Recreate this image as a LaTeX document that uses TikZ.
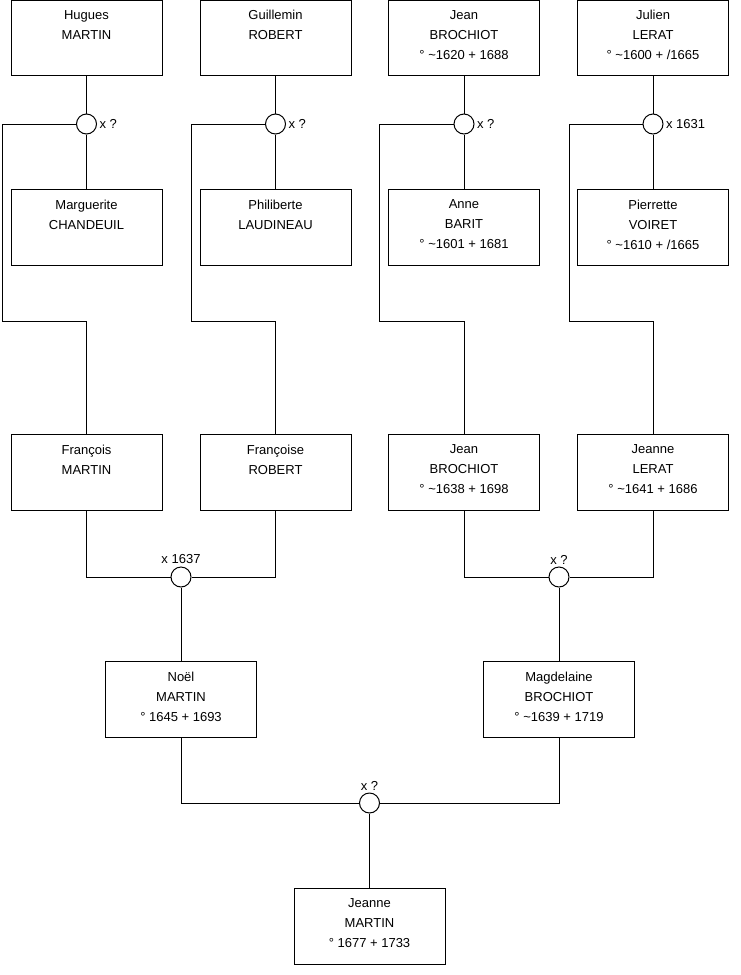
\documentclass[tikz,border=0pt]{standalone}
\usepackage{fontspec}
\setmainfont{Liberation Sans}

\begin{document}
\begin{tikzpicture}[x=1pt,y=-1pt,line width=1pt,
pers/.style={draw,rectangle,minimum width=151pt,minimum height=75.5pt,align=center,inner sep=0pt,font=\fontsize{13}{20}\selectfont,execute at end node={\strut}},
mar/.style={draw,circle,fill=white,minimum size=20pt,inner sep=0pt},
lab/.style={font=\fontsize{13}{15}\selectfont,inner sep=2pt}]
\useasboundingbox (0,0) rectangle (740,975);
% grands-parents
\node[pers] (hugues) at (86.5,38) {Hugues\\MARTIN\\};
\node[pers] (guillemin) at (275.5,38) {Guillemin\\ROBERT\\};
\node[pers] (jeanA) at (464,38) {Jean\\BROCHIOT\\° \textasciitilde1620 + 1688};
\node[pers] (julien) at (653,38) {Julien\\LERAT\\° \textasciitilde1600 + /1665};
\node[pers] (marguerite) at (86.5,227.5) {Marguerite\\CHANDEUIL\\};
\node[pers] (philiberte) at (275.5,227.5) {Philiberte\\LAUDINEAU\\};
\node[pers] (anne) at (464,227.5) {Anne\\BARIT\\° \textasciitilde1601 + 1681};
\node[pers] (pierrette) at (653,227.5) {Pierrette\\VOIRET\\° \textasciitilde1610 + /1665};
% parents
\node[pers] (francois) at (86.5,472.5) {François\\MARTIN\\};
\node[pers] (francoise) at (275.5,472.5) {Françoise\\ROBERT\\};
\node[pers] (jeanB) at (464,472.5) {Jean\\BROCHIOT\\° \textasciitilde1638 + 1698};
\node[pers] (jeanne) at (653,472.5) {Jeanne\\LERAT\\° \textasciitilde1641 + 1686};
\node[pers] (noel) at (181,699.5) {Noël\\MARTIN\\° 1645 + 1693};
\node[pers] (magdelaine) at (559,699.5) {Magdelaine\\BROCHIOT\\° \textasciitilde1639 + 1719};
\node[pers] (jeanneM) at (369.5,926.5) {Jeanne\\MARTIN\\° 1677 + 1733};
% mariages
\node[mar,label={[lab]right:x ?}] (mhugues) at (86.5,124) {};
\node[mar,label={[lab]right:x ?}] (mguillemin) at (275.5,124) {};
\node[mar,label={[lab]right:x ?}] (mjeanA) at (464,124) {};
\node[mar,label={[lab]right:x 1631}] (mjulien) at (653,124) {};
\node[mar,label={[lab]above:x 1637}] (mfrancois) at (181,577) {};
\node[mar,label={[lab]above:x ?}] (mjeanB) at (559,577) {};
\node[mar,label={[lab]above:x ?}] (mnoel) at (369.5,803) {};
\coordinate (shugues) at (2,321);
\coordinate (sguillemin) at (191,321);
\coordinate (sjeanA) at (379,321);
\coordinate (sjulien) at (569,321);

\foreach \p/\w/\c in {hugues/marguerite/francois,guillemin/philiberte/francoise,%
jeanA/anne/jeanB,julien/pierrette/jeanne} {
   \draw (\p) -- (m\p) -- (\w);
   \draw (m\p) -| (s\p) -| (\c);
}
\draw (francois) |- (mfrancois);
\draw (francoise) |- (mfrancois);
\draw (mfrancois) -- (noel);
\draw (jeanB) |- (mjeanB);
\draw (jeanne) |- (mjeanB);
\draw (mjeanB) -- (magdelaine);
\draw (noel) |- (mnoel);
\draw (magdelaine) |- (mnoel);
\draw (mnoel) -- (jeanneM);
\end{tikzpicture}
\end{document}
